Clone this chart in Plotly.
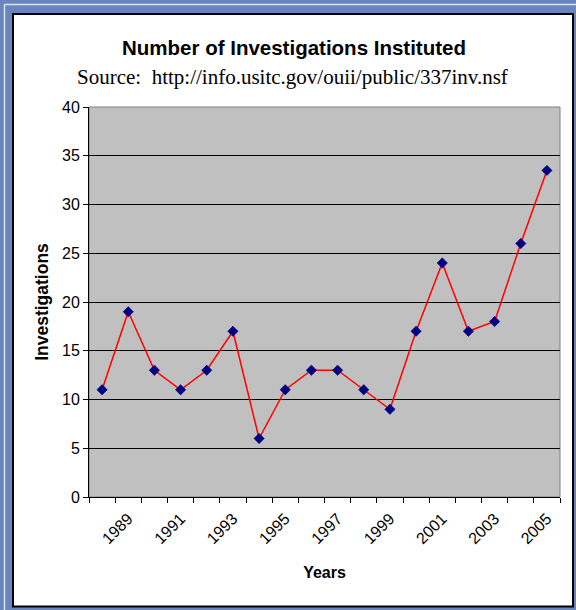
import plotly.graph_objects as go

years = [1988, 1989, 1990, 1991, 1992, 1993, 1994, 1995, 1996,
         1997, 1998, 1999, 2000, 2001, 2002, 2003, 2004, 2005]
investigations = [11, 19, 13, 11, 13, 17, 6, 11, 13,
                  13, 11, 9, 17, 24, 17, 18, 26, 33.5]
label_years = [1989, 1991, 1993, 1995, 1997, 1999, 2001, 2003, 2005]
label_text = [str(y) for y in label_years]

title_text = "<b>Number of Investigations Instituted</b>"
subtitle_text = "Source:  http://info.usitc.gov/ouii/public/337inv.nsf"

W, H = 576, 610
L, R, T, B = 89, 16, 107, 113
PW, PH = W - L - R, H - T - B

def px(x):
    return (x - L) / PW

def py(y):
    return 1 - (y - T) / PH

BLUE = "#6886bb"
LIGHT = "#dbe3f0"

fig = go.Figure()
fig.add_trace(go.Scatter(
    x=years, y=investigations, mode="lines+markers",
    line=dict(color="#ff0000", width=1.5),
    marker=dict(symbol="diamond", size=8, color="#000080",
                line=dict(color="#000080", width=0.5)),
    showlegend=False, hoverinfo="x+y"))

shapes = [
    dict(type="line", xref="paper", yref="paper", layer="below",
         x0=px(4.5), x1=px(W + 5), y0=py(4.5), y1=py(4.5),
         line=dict(color=LIGHT, width=1.5)),
    dict(type="line", xref="paper", yref="paper", layer="below",
         x0=px(4.5), x1=px(4.5), y0=py(4.5), y1=py(H + 5),
         line=dict(color=LIGHT, width=1.5)),
    dict(type="rect", xref="paper", yref="paper", layer="below",
         x0=px(13), x1=px(573), y0=py(14), y1=py(606.5),
         fillcolor="white", line=dict(color="black", width=2)),
    dict(type="rect", xref="x domain", yref="y domain", layer="below",
         x0=0, x1=1, y0=0, y1=1,
         fillcolor="#c0c0c0", line=dict(color="#808080", width=1)),
]

annotations = [
    dict(text=title_text, xref="paper", yref="paper",
         x=px(294), y=py(47), xanchor="center", yanchor="middle",
         showarrow=False,
         font=dict(family="Liberation Sans, Arial", size=20.5, color="black")),
    dict(text=subtitle_text, xref="paper", yref="paper",
         x=px(292), y=py(77), xanchor="center", yanchor="middle",
         showarrow=False,
         font=dict(family="Liberation Serif, Times New Roman", size=21, color="black")),
]

fig.update_layout(
    width=W, height=H,
    margin=dict(l=L, r=R, t=T, b=B, pad=0),
    paper_bgcolor=BLUE,
    plot_bgcolor="rgba(0,0,0,0)",
    shapes=shapes,
    annotations=annotations,
    font=dict(family="Liberation Sans, Arial", color="black"),
    xaxis=dict(
        range=[1987.5, 2005.5],
        tickmode="array", tickvals=label_years, ticktext=label_text,
        ticks="", tickangle=-45, ticklabelstandoff=5,
        tickfont=dict(size=16, color="black"),
        showgrid=False, zeroline=False,
        showline=True, linecolor="black", linewidth=1,
        minor=dict(ticks="outside", tick0=1987.5, dtick=1, ticklen=5,
                   tickcolor="black", tickwidth=1, showgrid=False),
        title=dict(text="<b>Years</b>", font=dict(size=16, color="black"),
                   standoff=20),
    ),
    yaxis=dict(
        range=[0, 40], tickmode="linear", tick0=0, dtick=5,
        ticks="outside", ticklen=5, tickcolor="black", tickwidth=1,
        tickfont=dict(size=16, color="black"),
        showgrid=True, gridcolor="black", gridwidth=1,
        zeroline=False, showline=True, linecolor="black", linewidth=1,
        title=dict(text="<b>Investigations</b>", font=dict(size=17.5, color="black"),
                   standoff=8),
    ),
)

fig.write_html("out.html")
